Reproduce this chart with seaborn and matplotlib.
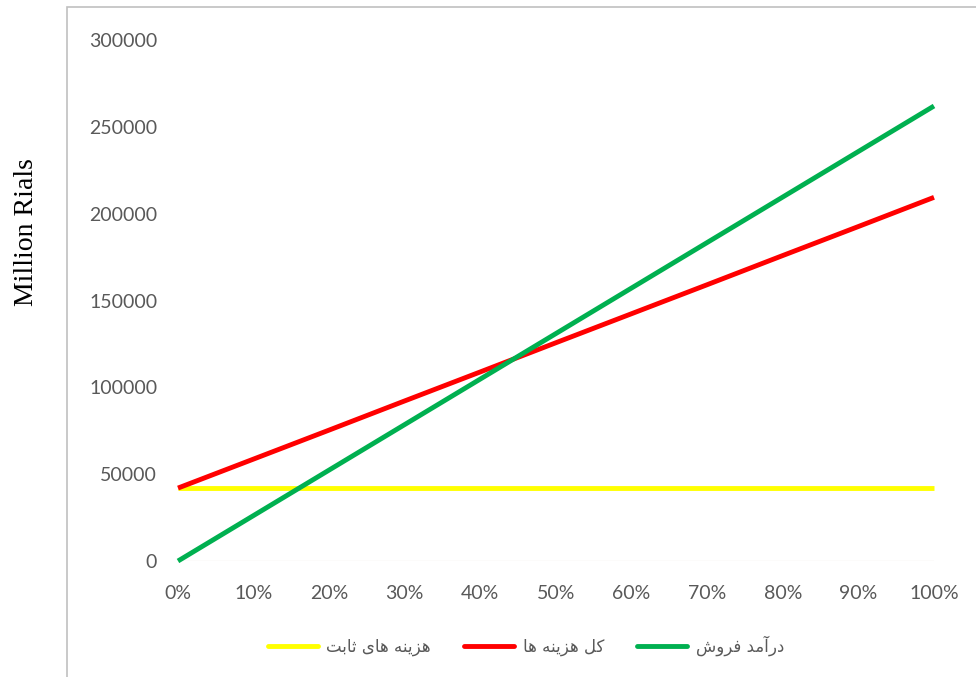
import pandas as pd
import matplotlib
matplotlib.use("Agg")
import matplotlib.pyplot as plt
from matplotlib.patches import Rectangle
import seaborn as sns

# values
levels = [0, 10, 20, 30, 40, 50, 60, 70, 80, 90, 100]
fixed_cost = [42000, 42000, 42000, 42000, 42000, 42000, 42000, 42000, 42000, 42000, 42000]
total_cost = [42000, 58700, 75400, 92200, 108900, 125700, 142400, 159100, 175900, 192600, 209400]
revenue = [0, 26200, 52400, 78600, 104800, 131000, 157200, 183400, 209600, 235800, 262000]
series_names = ["هزینه های ثابت", "کل هزینه ها", "درآمد فروش"]
series_colors = ["#ffff00", "#ff0000", "#00b050"]
y_ticks = [0, 50000, 100000, 150000, 200000, 250000, 300000]
y_label = "Million Rials"

# minimal Persian shaping: (isolated, final, initial, medial)
FORMS = {
    "ا": ("\uFE8D", "\uFE8E", None, None),
    "آ": ("\uFE81", "\uFE82", None, None),
    "ب": ("\uFE8F", "\uFE90", "\uFE91", "\uFE92"),
    "ت": ("\uFE95", "\uFE96", "\uFE97", "\uFE98"),
    "ث": ("\uFE99", "\uFE9A", "\uFE9B", "\uFE9C"),
    "د": ("\uFEA9", "\uFEAA", None, None),
    "ر": ("\uFEAD", "\uFEAE", None, None),
    "ز": ("\uFEAF", "\uFEB0", None, None),
    "ش": ("\uFEB5", "\uFEB6", "\uFEB7", "\uFEB8"),
    "ف": ("\uFED1", "\uFED2", "\uFED3", "\uFED4"),
    "ل": ("\uFEDD", "\uFEDE", "\uFEDF", "\uFEE0"),
    "م": ("\uFEE1", "\uFEE2", "\uFEE3", "\uFEE4"),
    "ن": ("\uFEE5", "\uFEE6", "\uFEE7", "\uFEE8"),
    "ه": ("\uFEE9", "\uFEEA", "\uFEEB", "\uFEEC"),
    "و": ("\uFEED", "\uFEEE", None, None),
    "ی": ("\uFBFC", "\uFBFD", "\uFBFE", "\uFBFF"),
    "ک": ("\uFB8E", "\uFB8F", "\uFB90", "\uFB91"),
}


def shape(text):
    out = []
    for i, ch in enumerate(text):
        if ch not in FORMS:
            out.append(ch)
            continue
        prev = text[i - 1] if i > 0 else " "
        nxt = text[i + 1] if i + 1 < len(text) else " "
        joins_prev = prev in FORMS and FORMS[prev][2] is not None
        joins_next = nxt in FORMS and FORMS[ch][2] is not None
        iso, fin, ini, med = FORMS[ch]
        if joins_prev and joins_next:
            out.append(med)
        elif joins_prev:
            out.append(fin)
        elif joins_next:
            out.append(ini)
        else:
            out.append(iso)
    return "".join(reversed(out))


df = pd.DataFrame({
    "level": levels * 3,
    "value": fixed_cost + total_cost + revenue,
    "series": [series_names[0]] * 11 + [series_names[1]] * 11 + [series_names[2]] * 11,
})

sns.set_theme(style="white")
plt.rcParams["font.family"] = ["Lato", "DejaVu Sans"]

fig = plt.figure(figsize=(9.76, 6.77), dpi=100)
ax = fig.add_axes([178 / 976, 1 - 561 / 677, (934 - 178) / 976, (561 - 40) / 677])

sns.lineplot(data=df, x="level", y="value", hue="series", palette=series_colors,
             hue_order=series_names, linewidth=3.5, ax=ax, legend=False, sort=False)
for line in ax.lines:
    line.set_solid_capstyle("butt")
    line.set_clip_on(False)

ax.set_xlim(0, 100)
ax.set_ylim(0, 300000)
ax.set_xticks(levels)
ax.set_xticklabels([f"{v}%" for v in levels])
ax.set_yticks(y_ticks)
ax.set_yticklabels([str(v) for v in y_ticks])
ax.tick_params(axis="both", length=0, labelsize=14, colors="#595959")
ax.tick_params(axis="y", pad=15)
ax.tick_params(axis="x", pad=17)
ax.set_xlabel("")
ax.set_ylabel("")
for s in ax.spines.values():
    s.set_visible(False)
ax.axhline(0, color="#f2eee8", linewidth=1, zorder=0)

fig.text(27 / 976, 1 - 232 / 677, y_label, rotation=90, ha="center", va="center",
         fontsize=20, family=["Liberation Serif"], color="black")

handles = [plt.Line2D([], [], color=c, linewidth=3.5, solid_capstyle="round") for c in series_colors]
leg = fig.legend(handles, [shape(n) for n in series_names], loc="center",
                 bbox_to_anchor=(526 / 976, 1 - 646 / 677), ncol=3, frameon=False,
                 handlelength=3.0, columnspacing=2.0, handletextpad=0.5,
                 prop={"family": ["DejaVu Sans"], "size": 12})
for t in leg.get_texts():
    t.set_color("#595959")

fig.patches.append(Rectangle((67 / 976, -0.1), 1.0, 1.1 - 7 / 677, transform=fig.transFigure,
                             fill=False, edgecolor="#c0c0c0", linewidth=1.2))

fig.savefig("out.png", dpi=100)
